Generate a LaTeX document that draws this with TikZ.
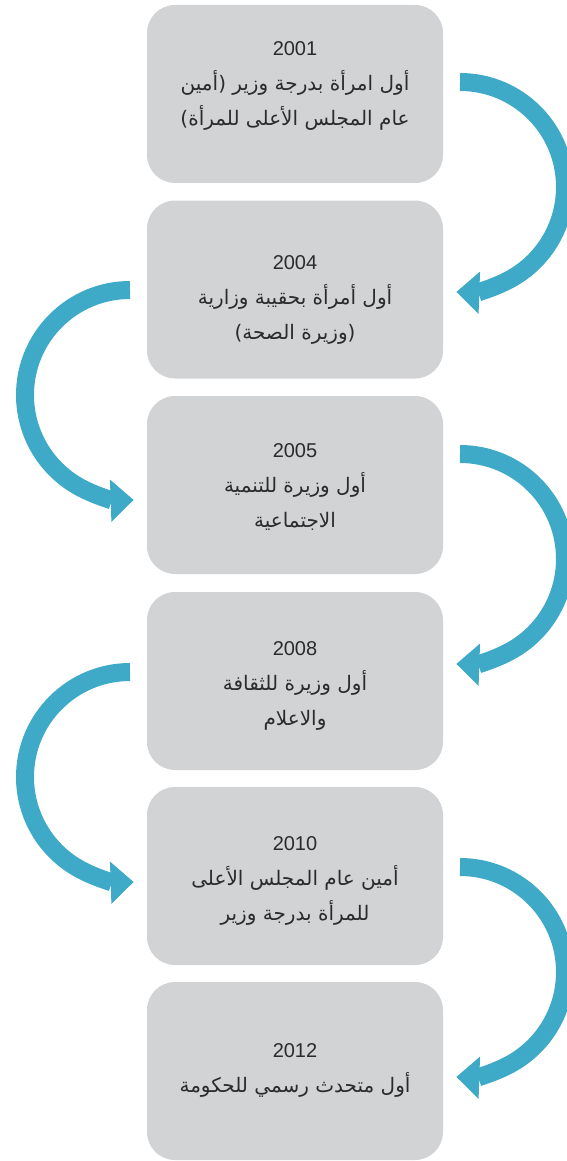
\documentclass[tikz,border=0pt]{standalone}
\usepackage{fontspec}
\usetikzlibrary{arrows.meta}
\TeXXeTstate=1
\newfontfamily\arabicfont[Script=Arabic]{DejaVu Sans}
\newfontfamily\yearfont{Liberation Sans}
\definecolor{boxgray}{HTML}{D1D3D4}
\definecolor{arrowblue}{HTML}{3FA9C8}
\definecolor{txtgray}{HTML}{2B2B2B}
\newcommand\arline[1]{{\arabicfont\fontsize{20}{35}\selectfont\beginR #1\endR}}
\newcommand\yrline[1]{{\yearfont\fontsize{20}{35}\selectfont #1}}
\begin{document}
\begin{tikzpicture}[x=1pt,y=1pt,
  box/.style={fill=boxgray, rounded corners=28pt, minimum width=296pt, minimum height=178pt, inner sep=0pt},
  txt/.style={align=center, text=txtgray, inner sep=0pt, font=\fontsize{20}{35}\selectfont},
  flow/.style={draw=arrowblue, line width=18pt, -{Triangle[length=23pt,width=41pt]}}]
\useasboundingbox (0,0) rectangle (566,-1161);
\node[box] (b1) at (295,-94) {};
\node[box] (b2) at (295,-289.5) {};
\node[box] (b3) at (295,-485) {};
\node[box] (b4) at (295,-681) {};
\node[box] (b5) at (295,-876) {};
\node[box] (b6) at (295,-1071) {};
\node[txt] (t1) at (295,-86) {\yrline{2001}\\ \arline{أول امرأة بدرجة  وزير (أمين}\\ \arline{عام المجلس الأعلى للمرأة)}};
\node[txt] (t2) at (295,-300) {\yrline{2004}\\ \arline{أول أمرأة بحقيبة وزارية}\\ \arline{(وزيرة الصحة)}};
\node[txt] (t3) at (295,-487) {\yrline{2005}\\ \arline{أول وزيرة للتنمية}\\ \arline{الاجتماعية}};
\node[txt] (t4) at (295,-685.5) {\yrline{2008}\\ \arline{أول وزيرة للثقافة}\\ \arline{والاعلام}};
\node[txt] (t5) at (295,-881) {\yrline{2010}\\ \arline{أمين عام المجلس الأعلى}\\ \arline{للمرأة بدرجة وزير}};
\node[txt] (t6) at (295,-1070) {\yrline{2012}\\ \arline{أول متحدث رسمي للحكومة}};
\coordinate (r1) at (460,-82);
\coordinate (l1) at (130,-290);
\coordinate (r2) at (460,-454);
\coordinate (l2) at (130,-672);
\coordinate (r3) at (460,-867);
\draw[flow] (r1) arc[start angle=90, end angle=-92, radius=105pt];
\draw[flow] (l1) arc[start angle=90, end angle=272, radius=105pt];
\draw[flow] (r2) arc[start angle=90, end angle=-92, radius=105pt];
\draw[flow] (l2) arc[start angle=90, end angle=272, radius=105pt];
\draw[flow] (r3) arc[start angle=90, end angle=-92, radius=105pt];
\end{tikzpicture}
\end{document}
